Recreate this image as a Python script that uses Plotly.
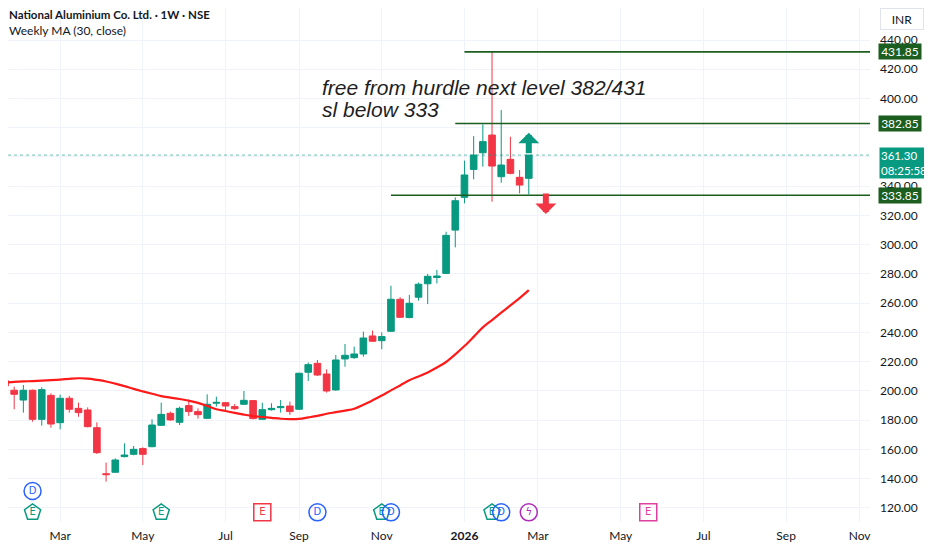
import pandas as pd
import plotly.graph_objects as go

# NALCO weekly candles (week starts monday)
dates = pd.date_range("2025-01-20", periods=58, freq="7D")

opens = [207.1, 200.5, 193.8, 200.5, 180.6, 197.0, 178.3, 195.0, 188.1, 187.0,
         174.9, 143.4, 144.4, 155.1, 156.7, 160.6, 161.9, 176.5, 184.7, 178.6,
         190.0, 185.9, 181.3, 191.6, 192.0, 189.3, 190.9, 193.4, 180.6, 187.2,
         188.6, 189.7, 187.5, 212.8, 218.9, 211.6, 200.7, 221.9, 222.8, 225.3,
         237.6, 234.4, 240.8, 262.7, 250.2, 264.1, 273.3, 277.6, 280.4, 310.0,
         332.4, 351.5, 362.9, 375.0, 346.5, 358.4, 346.1, 345.4]
highs = [215.5, 203.0, 204.1, 201.0, 202.5, 198.4, 197.5, 196.6, 192.0, 188.8,
         178.6, 151.0, 153.9, 164.2, 162.4, 161.5, 180.6, 192.0, 185.9, 189.3,
         194.3, 188.1, 197.7, 196.1, 192.2, 191.1, 200.0, 193.6, 192.0, 191.6,
         193.8, 192.7, 212.5, 219.5, 221.2, 214.8, 224.6, 232.1, 230.3, 240.6,
         241.3, 240.1, 272.0, 264.1, 265.7, 274.1, 280.0, 282.8, 308.9, 332.4,
         357.5, 374.3, 382.3, 431.85, 392.1, 373.9, 351.1, 361.3]
lows = [198.4, 187.5, 185.2, 179.0, 176.3, 174.9, 173.8, 185.2, 182.4, 175.1,
        156.9, 138.0, 144.1, 154.6, 156.0, 149.4, 161.5, 176.1, 179.7, 176.7,
        182.9, 181.1, 180.8, 189.3, 185.9, 187.0, 190.4, 180.6, 180.2, 186.5,
        185.2, 183.6, 187.0, 206.8, 210.3, 198.9, 200.2, 216.6, 221.9, 223.5,
        233.5, 228.5, 240.4, 249.9, 249.7, 261.8, 259.4, 273.5, 279.9, 298.2,
        328.3, 344.7, 353.4, 329.4, 342.4, 348.1, 335.1, 334.4]
closes = [203.4, 197.7, 200.5, 180.6, 200.9, 177.4, 195.0, 187.5, 185.2, 175.6,
          157.8, 142.8, 152.8, 156.2, 160.1, 156.7, 176.7, 184.0, 180.2, 188.1,
          185.9, 183.8, 190.9, 192.2, 189.7, 187.9, 193.6, 181.1, 187.2, 188.1,
          189.3, 185.9, 212.1, 218.0, 210.9, 200.0, 221.2, 224.4, 225.3, 236.2,
          234.0, 237.2, 262.7, 250.4, 260.0, 273.0, 278.4, 278.6, 306.4, 330.1,
          347.7, 361.3, 370.5, 353.8, 354.5, 348.8, 340.8, 361.3]

# Weekly MA (30, close) as drawn
ma30 = [205.8, 206.2, 206.5, 206.8, 207.1, 207.4, 207.8, 208.3, 208.7, 208.5,
        207.6, 206.5, 205.0, 203.3, 201.4, 199.7, 198.1, 196.5, 195.5, 194.5,
        193.3, 191.9, 189.8, 187.5, 186.3, 185.0, 183.8, 182.8, 182.2, 181.6,
        181.0, 180.7, 180.9, 181.9, 183.0, 184.4, 185.5, 186.6, 187.8, 190.5,
        193.6, 196.9, 200.4, 203.8, 207.3, 209.9, 212.6, 216.0, 219.8, 225.0,
        230.7, 237.0, 243.5, 248.5, 253.5, 258.5, 263.5, 269.0]

# horizontal levels drawn by the author
levels = [431.85, 382.85, 333.85]
level_start = ["2026-01-05", "2025-12-29", "2025-11-10"]
last_price = 361.30
countdown = "08:25:58"

note_lines = ["free from hurdle next level 382/431", "sl below 333"]
note_y = [407.5, 392.5]

# event flags under the candles
event_dates = ["2025-02-10", "2025-02-10", "2025-05-19", "2025-08-04", "2025-09-15",
               "2025-11-03", "2025-11-10", "2026-01-26", "2026-02-02", "2026-02-23",
               "2026-05-25"]
event_text = ["D", "E", "E", "E", "D", "E", "D", "E", "D", "ϟ", "E"]
event_kind = ["div", "earn", "earn", "earn_red", "div", "earn", "div", "earn", "div",
              "split", "earn_next"]
event_row = [131.6, 117.0, 117.0, 117.0, 117.0, 117.0, 117.0, 117.0, 117.0, 117.0, 117.0]

tick_dates = ["2025-03-03", "2025-05-05", "2025-07-07", "2025-09-01", "2025-11-03",
              "2026-01-05", "2026-03-02", "2026-05-04", "2026-07-06", "2026-09-07",
              "2026-11-02"]
tick_text = ["Mar", "May", "Jul", "Sep", "Nov", "<b>2026</b>", "Mar", "May", "Jul",
             "Sep", "Nov"]
price_ticks = list(range(120, 441, 20))
hidden_ticks = [360, 380]  # covered by the price tags on the scale

UP = "#089981"
DOWN = "#f23645"
LEVEL = "#1b5e20"
GRID = "#f0f3fa"
TXT = "#131722"
FONT = "Lato"

fig = go.Figure()

fig.add_trace(go.Candlestick(
    x=dates, open=opens, high=highs, low=lows, close=closes,
    increasing=dict(line=dict(color=UP, width=1), fillcolor=UP),
    decreasing=dict(line=dict(color=DOWN, width=1), fillcolor=DOWN),
    whiskerwidth=0, hoverinfo="skip", showlegend=False,
))

fig.add_trace(go.Scatter(x=dates, y=ma30, mode="lines",
                         line=dict(color="#ff1a1a", width=2.2, shape="spline"),
                         showlegend=False, hoverinfo="skip"))

for lv, st in zip(levels, level_start):
    fig.add_trace(go.Scatter(x=[st, "2027-03-01"], y=[lv, lv], mode="lines",
                             line=dict(color=LEVEL, width=1.6),
                             showlegend=False, hoverinfo="skip"))

# last price dotted line
fig.add_hline(y=last_price, line=dict(color=UP, width=1, dash="dot"), opacity=0.6)

# event flags
ev_colors = {"div": "#2962ff", "earn": UP, "earn_red": DOWN, "split": "#b02cb8",
             "earn_next": "#e040a0"}
ev_symbols = {"div": "circle-open", "earn": "pentagon-open", "earn_red": "square-open",
              "split": "circle-open", "earn_next": "square-open"}
for d, t, k, r in zip(event_dates, event_text, event_kind, event_row):
    fig.add_trace(go.Scatter(
        x=[d], y=[r], mode="markers+text", text=[t], textposition="middle center",
        textfont=dict(family="DejaVu Sans", size=10, color=ev_colors[k]),
        marker=dict(symbol=ev_symbols[k], size=17, color=ev_colors[k],
                    line=dict(width=1.5, color=ev_colors[k])),
        showlegend=False, hoverinfo="skip"))

# arrows near the last candle
fig.add_annotation(x="2026-02-23", y=376.5, ax=0, ay=22, showarrow=True, text="",
                   arrowhead=1, arrowsize=0.58, arrowwidth=6, arrowcolor=UP)
fig.add_annotation(x="2026-03-08", y=321, ax=0, ay=-22, showarrow=True, text="",
                   arrowhead=1, arrowsize=0.58, arrowwidth=6, arrowcolor=DOWN)

# author's note
for line, ly in zip(note_lines, note_y):
    fig.add_annotation(x="2025-09-17", y=ly, xanchor="left", yanchor="middle",
                       text=line, showarrow=False, align="left",
                       font=dict(family="Liberation Sans", size=21, color="#1e1e1e",
                                 style="italic"))

# header
fig.add_annotation(xref="paper", yref="paper", x=0, y=1, xanchor="left", yanchor="top",
                   xshift=-1, yshift=2, showarrow=False, align="left",
                   text="National Aluminium Co. Ltd. · 1W · NSE",
                   font=dict(family=FONT, size=11.5, color=TXT, weight=700))
fig.add_annotation(xref="paper", yref="paper", x=0, y=1, xanchor="left", yanchor="top",
                   xshift=-1, yshift=-13, showarrow=False, align="left",
                   text="Weekly MA (30, close)",
                   font=dict(family=FONT, size=12, color=TXT))

# currency box
fig.add_annotation(xref="paper", yref="paper", x=1, y=1, xanchor="left", yanchor="top",
                   xshift=10, yshift=0, showarrow=False, text="INR", width=38, height=16,
                   bordercolor="#e0e3eb", borderwidth=1, borderpad=2, bgcolor="white",
                   font=dict(family=FONT, size=12, color=TXT))

# price scale tags
for lv in levels:
    fig.add_annotation(xref="paper", y=lv, x=1, xanchor="left", yanchor="middle",
                       xshift=8, showarrow=False, text=f"{lv:.2f}", width=40, height=13,
                       bgcolor=LEVEL, borderpad=1,
                       font=dict(family=FONT, size=12, color="white"))
fig.add_annotation(xref="paper", y=last_price, x=1, xanchor="left", yanchor="top",
                   xshift=9, yshift=8, showarrow=False,
                   text=f"{last_price:.2f}<br>{countdown}", width=48, height=28,
                   bgcolor=UP, borderpad=1, align="left",
                   font=dict(family=FONT, size=11.5, color="white"))

# page body keeps an 8px margin, so the figure is 8px smaller than the window
fig.update_layout(
    width=924, height=542,
    margin=dict(l=0, r=62, t=0, b=28),
    paper_bgcolor="white", plot_bgcolor="white",
    showlegend=False,
    boxgap=0.2, boxgroupgap=0.1,
    font=dict(family=FONT, size=12, color=TXT),
)
fig.update_xaxes(type="date", range=["2025-01-22 07:00", "2026-11-09 22:00"],
                 tickvals=tick_dates, ticktext=tick_text, showgrid=True,
                 gridcolor=GRID, zeroline=False, showline=False, ticks="",
                 ticklabelstandoff=5,
                 rangeslider=dict(visible=False), tickfont=dict(size=12, color=TXT))
fig.update_yaxes(side="right", range=[110.4, 461.88], tickvals=price_ticks,
                 ticktext=["" if v in hidden_ticks else f"{v:.2f}" for v in price_ticks],
                 showgrid=True, gridcolor=GRID, zeroline=False, showline=False,
                 ticks="", ticklabelstandoff=9, tickfont=dict(size=12, color=TXT))

fig.write_html("out.html")
